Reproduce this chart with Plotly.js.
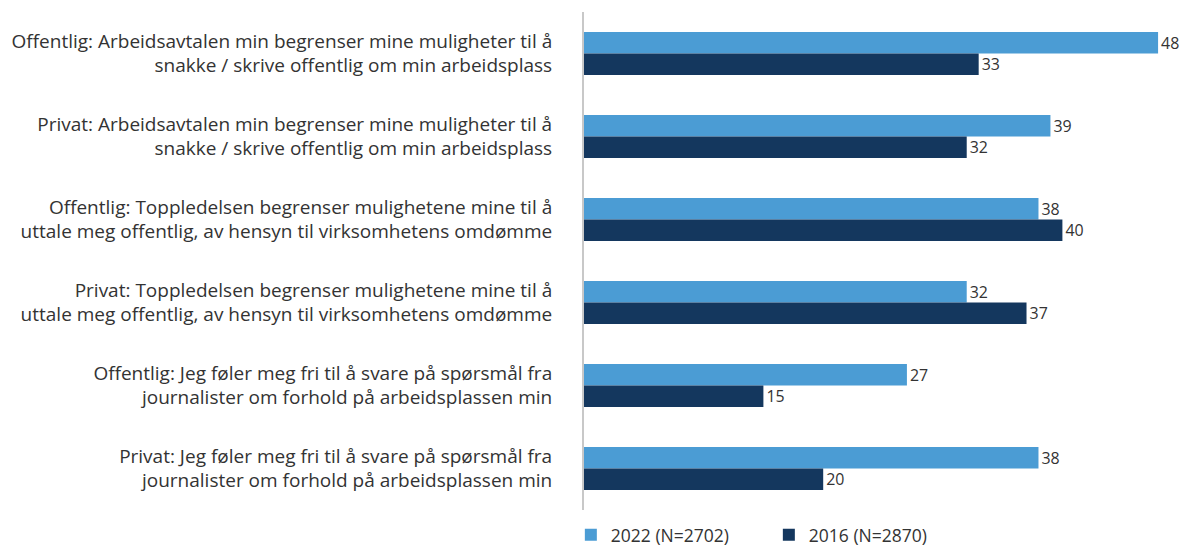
<!DOCTYPE html>
<html><head><meta charset="utf-8">
<script src="https://cdn.plot.ly/plotly-3.0.1.min.js"></script>
<style>html,body{margin:0;padding:0;background:#fff}#chart{width:1187px;height:548px}</style>
</head><body><div id="chart"></div>
<script>
const categories = [
  "Offentlig: Arbeidsavtalen min begrenser mine muligheter til å<br>snakke / skrive offentlig om min arbeidsplass",
  "Privat: Arbeidsavtalen min begrenser mine muligheter til å<br>snakke / skrive offentlig om min arbeidsplass",
  "Offentlig: Toppledelsen begrenser mulighetene mine til å<br>uttale meg offentlig, av hensyn til virksomhetens omdømme",
  "Privat: Toppledelsen begrenser mulighetene mine til å<br>uttale meg offentlig, av hensyn til virksomhetens omdømme",
  "Offentlig: Jeg føler meg fri til å svare på spørsmål fra<br>journalister om forhold på arbeidsplassen min",
  "Privat: Jeg føler meg fri til å svare på spørsmål fra<br>journalister om forhold på arbeidsplassen min"
];
const seriesNames = ["2022 (N=2702)", "2016 (N=2870)"];
const values2022 = [48, 39, 38, 32, 27, 38];
const values2016 = [33, 32, 40, 37, 15, 20];

const fam = "Open Sans, Noto Sans, sans-serif";
const mk = (name, vals, color) => ({
  type: "bar", orientation: "h", name: name, x: vals, y: categories,
  marker: {color: color, line: {width: 0}},
  text: vals.map(String), textposition: "outside", cliponaxis: false,
  textfont: {family: fam, size: 17, color: "#333333"},
  hoverinfo: "x+name"
});
const data = [
  mk(seriesNames[0], values2022, "#4b9cd4"),
  mk(seriesNames[1], values2016, "#14375e")
];
const layout = {
  width: 1187, height: 548,
  margin: {l: 584, r: 5, t: 12, b: 38, autoexpand: false},
  barmode: "group", bargap: 0.48, bargroupgap: 0,
  font: {family: fam, size: 17, color: "#333333"},
  paper_bgcolor: "#ffffff", plot_bgcolor: "#ffffff",
  xaxis: {range: [0, 50], showgrid: false, zeroline: false, showticklabels: false, showline: false, ticks: "", automargin: false},
  yaxis: {autorange: "reversed", showgrid: false, zeroline: false, showline: true, linecolor: "#c8c8c8", linewidth: 2,
          ticks: "", ticklabelstandoff: 26, automargin: false, tickfont: {family: fam, size: 19, color: "#333333"}},
  showlegend: true,
  legend: {orientation: "h", x: -0.022, xanchor: "left", y: -0.05, yanchor: "middle",
           font: {family: fam, size: 17.5, color: "#333333"}, itemwidth: 30,
           entrywidth: 153, entrywidthmode: "pixels", traceorder: "normal"}
};
Plotly.newPlot("chart", data, layout, {displayModeBar: false, staticPlot: true});
</script></body></html>
